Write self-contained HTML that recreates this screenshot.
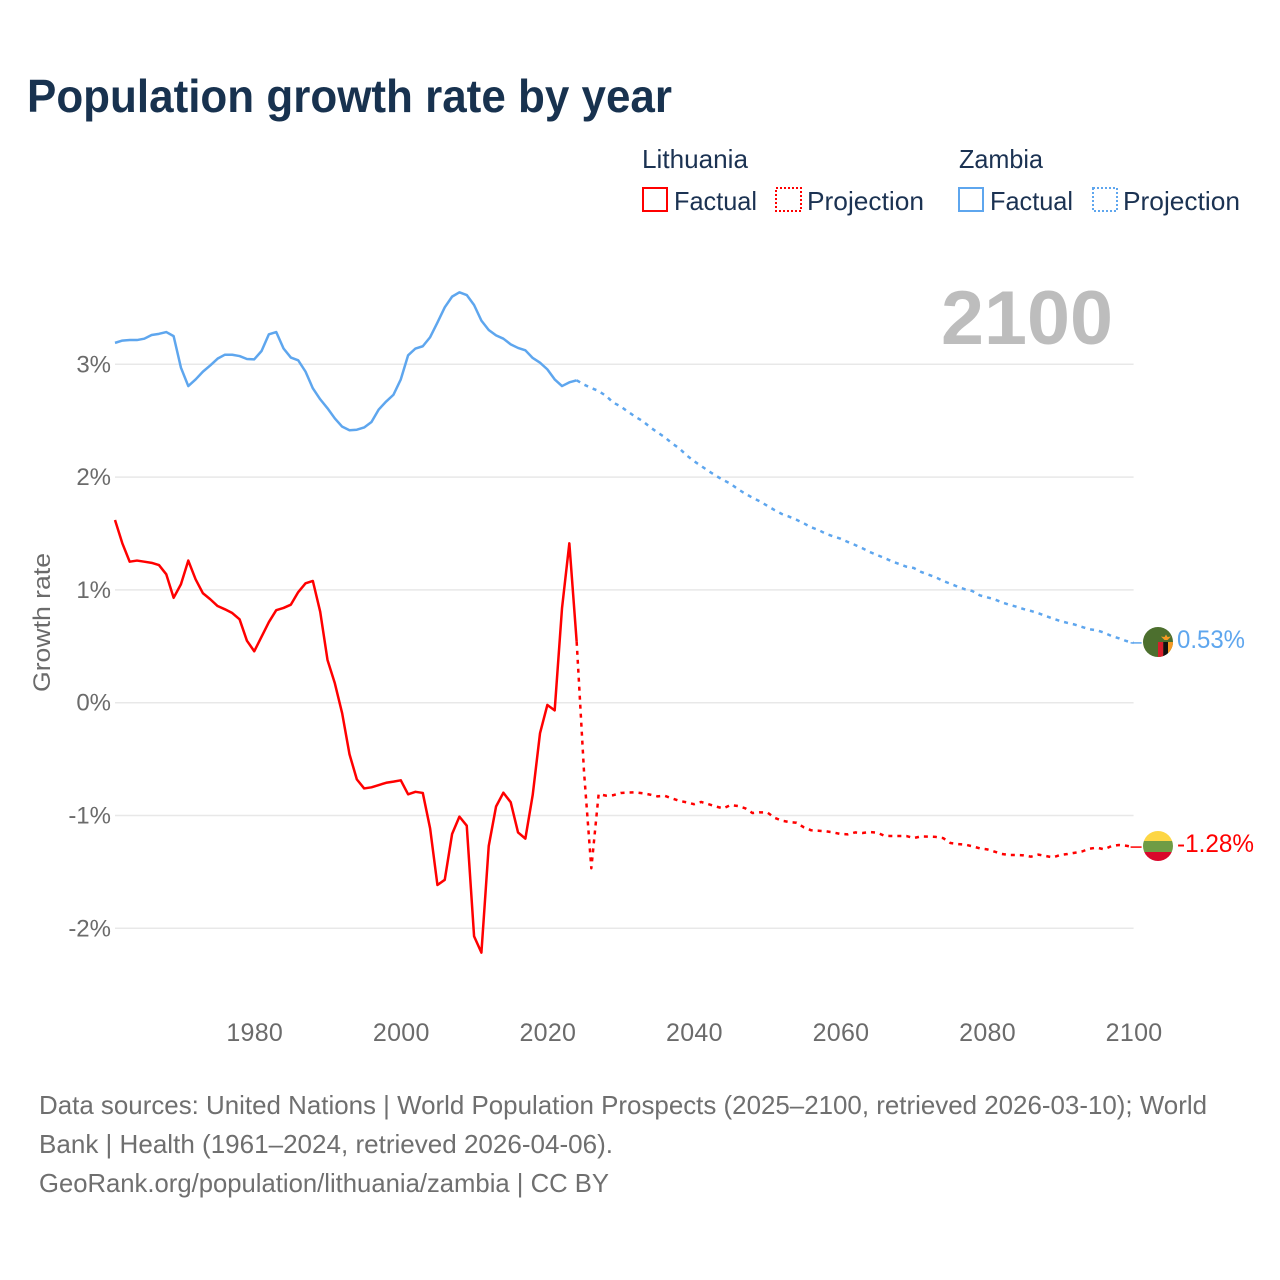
<!DOCTYPE html>
<html lang="en">
<head>
<meta charset="utf-8">
<title>Population growth rate by year</title>
<style>
html,body{margin:0;padding:0;background:#fff;}
svg{display:block;font-family:"Liberation Sans",sans-serif;}
</style>
</head>
<body>
<svg id="chart" width="1280" height="1280" viewBox="0 0 1280 1280" xmlns="http://www.w3.org/2000/svg">
  <defs>
    <clipPath id="clip-zambia"><circle cx="1158" cy="642" r="15"/></clipPath>
    <clipPath id="clip-lithuania"><circle cx="1158" cy="846" r="15"/></clipPath>
  </defs>
  <text x="27" y="112" font-size="46" font-weight="700" fill="#18324f" textLength="645" lengthAdjust="spacingAndGlyphs">Population growth rate by year</text>

  <g font-size="26" fill="#1b3252">
    <text x="642" y="168" textLength="106" lengthAdjust="spacingAndGlyphs">Lithuania</text>
    <rect x="643" y="188" width="24" height="23" fill="none" stroke="#ff0000" stroke-width="2"/>
    <text x="674" y="210" textLength="83" lengthAdjust="spacingAndGlyphs">Factual</text>
    <rect x="776" y="188" width="25" height="23" fill="none" stroke="#ff0000" stroke-width="2" stroke-dasharray="2 2"/>
    <text x="807" y="210" textLength="117" lengthAdjust="spacingAndGlyphs">Projection</text>
    <text x="959" y="168" textLength="84" lengthAdjust="spacingAndGlyphs">Zambia</text>
    <rect x="959" y="188" width="24" height="23" fill="none" stroke="#5ea6ee" stroke-width="2"/>
    <text x="990" y="210" textLength="83" lengthAdjust="spacingAndGlyphs">Factual</text>
    <rect x="1093" y="188" width="24" height="23" fill="none" stroke="#5ea6ee" stroke-width="2" stroke-dasharray="2 2"/>
    <text x="1123" y="210" textLength="117" lengthAdjust="spacingAndGlyphs">Projection</text>
  </g>

  <g id="grid"></g>
  <g id="y-axis"></g>
  <g id="x-axis"></g>

  <text transform="translate(50,622.500) rotate(-90)" text-anchor="middle" font-size="24" fill="#6b6b6b" textLength="139" lengthAdjust="spacingAndGlyphs">Growth rate</text>
  <text x="941" y="344" font-size="76" font-weight="700" fill="#bdbdbd" textLength="172" lengthAdjust="spacingAndGlyphs">2100</text>

  <g id="series"></g>

  <g clip-path="url(#clip-zambia)">
    <rect x="1143" y="627" width="30" height="30" fill="#4c6f2e"/>
    <rect x="1158" y="642" width="5.300" height="16" fill="#d81e2c"/>
    <rect x="1163.300" y="642" width="4.700" height="16" fill="#111111"/>
    <rect x="1168" y="642" width="5" height="16" fill="#f59a23"/>
    <path d="M1161 636.500 L1164.500 637 L1166 634.500 L1167.500 637 L1171 636.500 L1167.500 640 L1164.500 640 Z" fill="#f59a23"/>
  </g>
  <text x="1177" y="648" font-size="25" fill="#5ea6ee" textLength="68" lengthAdjust="spacingAndGlyphs">0.53%</text>

  <g clip-path="url(#clip-lithuania)">
    <rect x="1143" y="831" width="30" height="10" fill="#fdd644"/>
    <rect x="1143" y="841" width="30" height="11" fill="#6f9c45"/>
    <rect x="1143" y="852" width="30" height="10" fill="#d9072b"/>
  </g>
  <text x="1177" y="852" font-size="25" fill="#ff0000" textLength="77" lengthAdjust="spacingAndGlyphs">-1.28%</text>

  <g font-size="26" fill="#6f6f6f">
    <text x="39" y="1114" textLength="1168" lengthAdjust="spacingAndGlyphs">Data sources: United Nations | World Population Prospects (2025–2100, retrieved 2026-03-10); World</text>
    <text x="39" y="1153" textLength="574" lengthAdjust="spacingAndGlyphs">Bank | Health (1961–2024, retrieved 2026-04-06).</text>
    <text x="39" y="1192" textLength="570" lengthAdjust="spacingAndGlyphs">GeoRank.org/population/lithuania/zambia | CC BY</text>
  </g>
</svg>

<script>
const xTickYears = [1980, 2000, 2020, 2040, 2060, 2080, 2100];
const yTickValues = [3, 2, 1, 0, -1, -2];
const factualStartYear = 1961;
const projectionStartYear = 2024;

const lithuaniaFactual = [
  1.62, 1.413, 1.25, 1.26, 1.25, 1.24, 1.22, 1.138, 0.93, 1.05,
  1.26, 1.094, 0.97, 0.917, 0.857, 0.828, 0.795, 0.739, 0.55, 0.456,
  0.585, 0.715, 0.82, 0.84, 0.869, 0.98, 1.058, 1.079, 0.807, 0.379,
  0.172, -0.094, -0.457, -0.68, -0.76, -0.75, -0.73, -0.71, -0.70, -0.688,
  -0.812, -0.79, -0.80, -1.114, -1.616, -1.57, -1.164, -1.01, -1.09, -2.07,
  -2.216, -1.27, -0.92, -0.798, -0.883, -1.15, -1.205, -0.818, -0.27, -0.02,
  -0.068, 0.837, 1.413, 0.54
];
const lithuaniaProjection = [
  0.54, -0.61, -1.468, -0.81, -0.824, -0.82, -0.80, -0.797, -0.795, -0.803,
  -0.815, -0.83, -0.825, -0.848, -0.87, -0.883, -0.90, -0.88, -0.90, -0.92,
  -0.937, -0.907, -0.916, -0.936, -0.978, -0.972, -0.972, -1.02, -1.046, -1.058,
  -1.064, -1.105, -1.131, -1.135, -1.14, -1.15, -1.164, -1.167, -1.15, -1.155,
  -1.146, -1.152, -1.18, -1.182, -1.182, -1.182, -1.2, -1.185, -1.187, -1.19,
  -1.2, -1.244, -1.253, -1.258, -1.273, -1.291, -1.30, -1.32, -1.341, -1.35,
  -1.35, -1.353, -1.365, -1.347, -1.359, -1.371, -1.35, -1.341, -1.33, -1.318,
  -1.294, -1.285, -1.30, -1.27, -1.262, -1.268, -1.28
];
const zambiaFactual = [
  3.19, 3.21, 3.215, 3.215, 3.227, 3.26, 3.27, 3.286, 3.25, 2.97,
  2.807, 2.866, 2.935, 2.99, 3.05, 3.085, 3.085, 3.073, 3.047, 3.044,
  3.118, 3.266, 3.286, 3.14, 3.06, 3.035, 2.935, 2.787, 2.69, 2.61,
  2.52, 2.447, 2.415, 2.42, 2.44, 2.488, 2.60, 2.67, 2.73, 2.866,
  3.08, 3.14, 3.16, 3.24, 3.37, 3.505, 3.60, 3.638, 3.614, 3.526,
  3.387, 3.304, 3.256, 3.227, 3.177, 3.145, 3.124, 3.056, 3.014, 2.955,
  2.866, 2.807, 2.84, 2.858
];
const zambiaProjection = [
  2.858, 2.82, 2.79, 2.763, 2.72, 2.66, 2.627, 2.58, 2.535, 2.497,
  2.444, 2.397, 2.355, 2.30, 2.255, 2.193, 2.142, 2.098, 2.054, 2.012,
  1.974, 1.941, 1.894, 1.853, 1.817, 1.785, 1.746, 1.708, 1.673, 1.649,
  1.622, 1.59, 1.555, 1.531, 1.498, 1.475, 1.454, 1.425, 1.398, 1.369,
  1.336, 1.309, 1.283, 1.254, 1.23, 1.206, 1.194, 1.159, 1.135, 1.112,
  1.079, 1.055, 1.028, 1.005, 0.99, 0.952, 0.934, 0.917, 0.89, 0.869,
  0.851, 0.83, 0.813, 0.793, 0.769, 0.745, 0.724, 0.707, 0.692, 0.671,
  0.651, 0.642, 0.62, 0.591, 0.571, 0.547, 0.53
];

const SVG_NS = 'http://www.w3.org/2000/svg';
const plot = { left: 115, right: 1133.6, zeroY: 702.7, unitY: 112.8, yearMin: 1961, yearMax: 2100 };

function xScale(year) {
  return plot.left + (year - plot.yearMin) * (plot.right - plot.left) / (plot.yearMax - plot.yearMin);
}
function yScale(value) {
  return plot.zeroY - value * plot.unitY;
}
function linePoints(values, startYear) {
  return values.map(function (v, i) {
    return xScale(startYear + i).toFixed(2) + ',' + yScale(v).toFixed(2);
  }).join(' ');
}

const gridGroup = document.getElementById('grid');
const yAxisGroup = document.getElementById('y-axis');
const xAxisGroup = document.getElementById('x-axis');
const seriesGroup = document.getElementById('series');

yTickValues.forEach(function (v) {
  const line = document.createElementNS(SVG_NS, 'line');
  
  
  line.setAttribute('x1', plot.left);
  line.setAttribute('x2', plot.right);
  line.setAttribute('y1', yScale(v));
  line.setAttribute('y2', yScale(v));
  line.setAttribute('stroke', '#e8e8e8');
  line.setAttribute('stroke-width', '1.5');
  gridGroup.appendChild(line);

  const label = document.createElementNS(SVG_NS, 'text');
  
  
  label.setAttribute('x', plot.left - 4);
  label.setAttribute('y', yScale(v) + 8);
  label.setAttribute('text-anchor', 'end');
  label.setAttribute('font-size', '24');
  label.setAttribute('fill', '#6b6b6b');
  label.textContent = v + '%';
  yAxisGroup.appendChild(label);
});

xTickYears.forEach(function (year) {
  const label = document.createElementNS(SVG_NS, 'text');
  
  
  label.setAttribute('x', xScale(year) + 0.5);
  label.setAttribute('y', 1041);
  label.setAttribute('text-anchor', 'middle');
  label.setAttribute('font-size', '25');
  label.setAttribute('letter-spacing', '0.3');
  label.setAttribute('fill', '#6b6b6b');
  label.textContent = String(year);
  xAxisGroup.appendChild(label);
});

function addSeries(values, startYear, color, dashed, name) {
  const line = document.createElementNS(SVG_NS, 'polyline');
  
  
  line.setAttribute('points', linePoints(values, startYear));
  line.setAttribute('fill', 'none');
  line.setAttribute('stroke', color);
  line.setAttribute('stroke-width', '2.5');
  line.setAttribute('stroke-linejoin', 'round');
  if (dashed) {
    line.setAttribute('stroke-dasharray', '4 5');
  }
  seriesGroup.appendChild(line);
}

function addConnector(values, color, name) {
  const last = values[values.length - 1];
  const line = document.createElementNS(SVG_NS, 'line');
  
  
  line.setAttribute('x1', xScale(plot.yearMax) - 3);
  line.setAttribute('x2', xScale(plot.yearMax) + 8);
  line.setAttribute('y1', yScale(last));
  line.setAttribute('y2', yScale(last));
  line.setAttribute('stroke', color);
  line.setAttribute('stroke-width', '1.5');
  seriesGroup.appendChild(line);
}

addSeries(zambiaFactual, factualStartYear, '#5ea6ee', false, 'zambia-factual-line');
addSeries(zambiaProjection, projectionStartYear, '#5ea6ee', true, 'zambia-projection-line');
addSeries(lithuaniaFactual, factualStartYear, '#ff0000', false, 'lithuania-factual-line');
addSeries(lithuaniaProjection, projectionStartYear, '#ff0000', true, 'lithuania-projection-line');
addConnector(zambiaProjection, '#5ea6ee', 'zambia-marker-connector');
addConnector(lithuaniaProjection, '#ff0000', 'lithuania-marker-connector');
</script>
</body>
</html>
